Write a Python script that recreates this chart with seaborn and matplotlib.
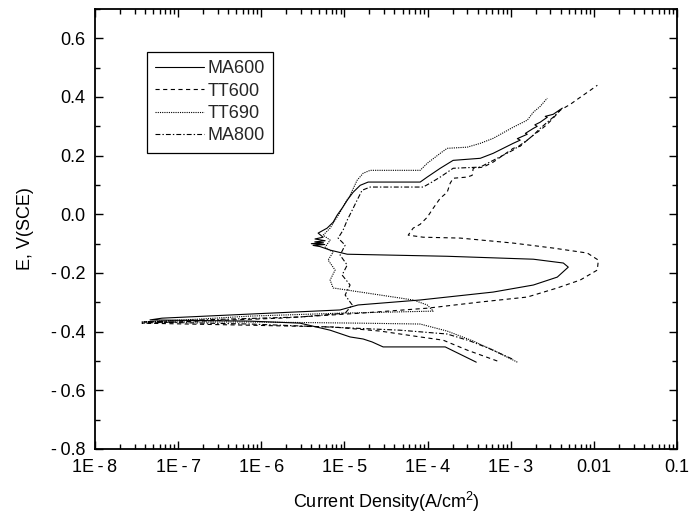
import numpy as np
import pandas as pd
import matplotlib
matplotlib.use("Agg")
import matplotlib.pyplot as plt
import seaborn as sns
from matplotlib.ticker import FixedLocator, LogLocator, NullFormatter, MultipleLocator

sns.set_theme(style="ticks")
plt.rcParams['font.family'] = ['Liberation Sans', 'DejaVu Sans']
plt.rcParams['mathtext.fontset'] = 'custom'
plt.rcParams['mathtext.rm'] = 'Liberation Sans'
plt.rcParams['mathtext.it'] = 'Liberation Sans:italic'
plt.rcParams['lines.scale_dashes'] = False

# ---- data (current density A/cm2, potential V vs SCE) ----
ma600_i = [3.85e-4, 1.63e-4, 2.92e-5, 2.15e-5, 1.68e-5, 1.17e-5, 6.73e-6, 2.93e-6, 7.3e-7, 4.59e-8,
           6.4e-8, 7.3e-7, 8.87e-6, 1.46e-5, 8.15e-5, 6.15e-4, 1.87e-3, 3.63e-3, 4.92e-3, 4.29e-3,
           1.87e-3, 1.72e-4, 1.08e-5, 6.73e-6, 5.1e-6, 4.2e-6, 5.8e-6, 4.0e-6, 5.6e-6, 4.4e-6,
           5.86e-6, 4.43e-6, 5.55e-6, 4.83e-6, 6.2e-6,
           7.31e-6, 8.17e-6, 9.38e-6, 1.08e-5, 1.27e-5, 1.55e-5, 1.93e-5, 8.15e-5, 9.9e-5, 1.42e-4,
           2.03e-4, 4.3e-4, 6.15e-4, 1.07e-3, 1.3e-3, 1.2e-3, 1.58e-3, 1.5e-3, 1.87e-3, 2.08e-3,
           1.95e-3, 2.26e-3, 2.75e-3, 2.6e-3, 3.24e-3, 4.17e-3]
ma600_e = [-0.504, -0.452, -0.452, -0.435, -0.425, -0.418, -0.395, -0.371, -0.364, -0.360,
           -0.354, -0.340, -0.326, -0.309, -0.292, -0.265, -0.241, -0.214, -0.180, -0.166,
           -0.153, -0.143, -0.136, -0.122, -0.110, -0.106, -0.103, -0.100, -0.097, -0.094,
           -0.090, -0.084, -0.078, -0.064, -0.047,
           -0.027, -0.003, 0.021, 0.048, 0.075, 0.099, 0.110, 0.110, 0.127, 0.157,
           0.184, 0.191, 0.208, 0.242, 0.253, 0.258, 0.273, 0.276, 0.293, 0.300,
           0.305, 0.314, 0.331, 0.334, 0.341, 0.362]

tt600_i = [6.89e-4, 3.0e-4, 1.54e-4, 8.15e-5, 2.69e-5, 7.31e-6, 7.3e-7, 3.68e-8, 1.84e-7, 1.68e-6,
           1.55e-5, 9.9e-5, 4.3e-4, 1.58e-3, 3.63e-3, 6.85e-3, 1.1e-2, 1.13e-2, 8.34e-3, 3.24e-3,
           1.07e-3, 2.47e-4, 8.85e-5, 5.85e-5, 6.71e-5, 8.15e-5, 9.9e-5, 1.17e-4, 1.42e-4, 1.72e-4,
           1.87e-4, 2.03e-4, 3.0e-4, 3.44e-4, 3.54e-4, 4.67e-4, 6.15e-4, 1.07e-3, 1.3e-3, 1.58e-3,
           1.87e-3, 2.26e-3, 2.75e-3, 3.24e-3, 3.94e-3, 5.2e-3, 6.85e-3, 9.06e-3, 1.1e-2]
tt600_e = [-0.500, -0.463, -0.429, -0.418, -0.398, -0.384, -0.378, -0.371, -0.364, -0.354,
           -0.337, -0.320, -0.299, -0.282, -0.251, -0.224, -0.190, -0.156, -0.132, -0.115,
           -0.098, -0.081, -0.078, -0.071, -0.047, -0.034, -0.010, 0.021, 0.055, 0.075,
           0.106, 0.123, 0.127, 0.133, 0.157, 0.161, 0.178, 0.225, 0.232, 0.253,
           0.270, 0.287, 0.307, 0.328, 0.355, 0.375, 0.399, 0.423, 0.440]

tt690_i = [1.2e-3, 6.15e-4, 3.54e-4, 1.72e-4, 8.15e-5, 1.55e-5, 7.3e-7, 3.68e-8, 1.84e-7, 7.3e-7,
           8.87e-6, 1.17e-4, 9.9e-5, 6.71e-5, 7.31e-6, 6.73e-6, 7.73e-6, 6.37e-6, 7.31e-6, 5.86e-6,
           6.73e-6, 5.55e-6, 6.73e-6, 7.73e-6, 8.87e-6, 1.02e-5, 1.17e-5, 1.42e-5, 1.68e-5, 2.04e-5,
           8.15e-5, 9.9e-5, 1.42e-4, 1.72e-4, 3.0e-4, 4.3e-4, 6.15e-4, 1.07e-3, 1.58e-3, 1.87e-3,
           2.26e-3, 2.75e-3]
tt690_e = [-0.504, -0.463, -0.432, -0.398, -0.374, -0.371, -0.367, -0.367, -0.357, -0.347,
           -0.337, -0.330, -0.309, -0.292, -0.251, -0.224, -0.190, -0.156, -0.129, -0.112,
           -0.088, -0.071, -0.047, -0.020, 0.007, 0.038, 0.065, 0.116, 0.140, 0.150,
           0.150, 0.174, 0.208, 0.225, 0.229, 0.242, 0.259, 0.297, 0.321, 0.348,
           0.368, 0.396]

ma800_i = [1.04e-3, 5.66e-4, 3.26e-4, 1.72e-4, 4.68e-5, 6.2e-6, 7.3e-7, 4.0e-8, 1.84e-7, 2.93e-6,
           1.02e-5, 1.24e-5, 1.02e-5, 1.17e-5, 9.38e-6, 1.08e-5, 8.87e-6, 1.02e-5, 8.4e-6, 9.64e-6,
           1.08e-5, 1.24e-5, 1.42e-5, 1.63e-5, 2.04e-5, 8.85e-5, 1.07e-4, 1.42e-4, 2.03e-4, 4.3e-4,
           6.15e-4, 1.07e-3, 1.3e-3, 1.58e-3, 1.87e-3, 2.26e-3, 2.75e-3, 3.24e-3, 3.94e-3]
ma800_e = [-0.493, -0.459, -0.432, -0.408, -0.395, -0.384, -0.374, -0.367, -0.360, -0.350,
           -0.337, -0.309, -0.275, -0.241, -0.207, -0.173, -0.139, -0.105, -0.081, -0.054,
           -0.020, 0.014, 0.048, 0.082, 0.093, 0.093, 0.106, 0.127, 0.157, 0.161,
           0.184, 0.219, 0.236, 0.253, 0.270, 0.293, 0.314, 0.331, 0.355]

series_names = ["MA600", "TT600", "TT690", "MA800"]
x_tick_labels = ["1E\u2009-\u20098", "1E\u2009-\u20097", "1E\u2009-\u20096", "1E\u2009-\u20095",
                 "1E\u2009-\u20094", "1E\u2009-\u20093", "0.01", "0.1"]
y_tick_labels = ["-\u20090.8", "-\u20090.6", "-\u20090.4", "-\u20090.2", "0.0", "0.2", "0.4", "0.6"]

data = [(ma600_i, ma600_e), (tt600_i, tt600_e), (tt690_i, tt690_e), (ma800_i, ma800_e)]
styles = ["-", (0, (3.0, 2.5)), (0, (0.8, 0.8)), (0, (3.5, 1.5, 1.0, 1.5))]

fig = plt.figure(figsize=(6.98, 5.23), dpi=100)
ax = fig.add_axes([0.136, 0.1415, 0.834, 0.8413])
ax.set_xscale("log")

for name, (ci, ce), ls in zip(series_names, data, styles):
    df = pd.DataFrame({"I": ci, "E": ce})
    sns.lineplot(data=df, x="I", y="E", sort=False, estimator=None, ax=ax,
                 color="black", linewidth=0.8, linestyle=ls, label=name)

ax.set_xlim(1e-8, 0.1)
ax.set_ylim(-0.8, 0.7)

ax.xaxis.set_major_locator(FixedLocator([10.0 ** k for k in range(-8, 0)]))
ax.set_xticklabels(x_tick_labels)
ax.xaxis.set_minor_locator(LogLocator(base=10, subs=np.arange(2, 10), numticks=20))
ax.xaxis.set_minor_formatter(NullFormatter())
ax.set_yticks(np.round(np.arange(-0.8, 0.61, 0.2), 1))
ax.set_yticklabels(y_tick_labels)
ax.yaxis.set_minor_locator(MultipleLocator(0.1))

ax.tick_params(which="both", direction="in", top=True, right=True, colors="black",
               labelsize=13, width=1.0)
ax.tick_params(which="major", length=6)
ax.tick_params(which="minor", length=3.5)
ax.tick_params(axis="y", pad=7)
ax.tick_params(axis="x", pad=7)
for sp in ax.spines.values():
    sp.set_linewidth(1.3)
    sp.set_color("black")

ax.set_xlabel("Current Density(A/cm$^{\\mathrm{2}}$)", fontsize=13, labelpad=10, color="black")
ax.set_ylabel("E, V(SCE)", fontsize=13, labelpad=12, color="black")

leg = ax.legend(loc="upper left", bbox_to_anchor=(0.089, 0.902), borderaxespad=0,
                frameon=True, fancybox=False, edgecolor="black", framealpha=1,
                fontsize=13, handlelength=2.7, handletextpad=0.2, labelspacing=0.3,
                borderpad=0.45)
leg.get_frame().set_linewidth(0.9)

fig.savefig("out.png", dpi=100)
